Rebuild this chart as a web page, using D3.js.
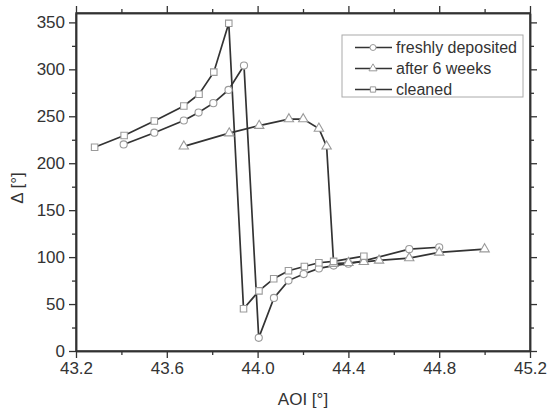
<!DOCTYPE html>
<html><head><meta charset="utf-8">
<script src="https://cdn.jsdelivr.net/npm/d3@7"></script>
<style>body{margin:0;background:#fff}</style>
</head><body><svg id="c" width="547" height="414"></svg>
<script>
const seriesNames = ["freshly deposited", "after 6 weeks", "cleaned"];
const seriesSymbols = ["circle", "triangle", "square"];
const freshX = [43.41,43.545,43.675,43.74,43.805,43.872,43.94,44.005,44.072,44.136,44.203,44.27,44.335,44.40,44.468,44.668,44.80];
const freshY = [220,232.5,245.5,254,264,278,304,14,56.5,75,82,88,91,93,96,108.5,110.5];
const weeksX = [43.675,43.875,44.007,44.138,44.201,44.27,44.304,44.335,44.40,44.468,44.535,44.668,44.80,45.0];
const weeksY = [218,232,240,247,247,237,218,93,94,95,96.5,99,105,108.5];
const cleanX = [43.282,43.412,43.545,43.675,43.742,43.807,43.873,43.938,44.006,44.071,44.136,44.206,44.27,44.335,44.468];
const cleanY = [217,229.5,245,261,273.5,297,349,45,64,77,85.5,90,94,95.5,101];
const xTicks = [43.2,43.6,44.0,44.4,44.8,45.2];
const xMinor = [43.4,43.8,44.2,44.6,45.0];
const yTicks = [0,50,100,150,200,250,300,350];
const yMinor = [25,75,125,175,225,275,325];

const svg = d3.select("#c");
const L=76, R=530, T=13, B=351;
const x = d3.scaleLinear().domain([43.2,45.2]).range([L,R]);
const y = d3.scaleLinear().domain([0,360]).range([B,T]);
const ink = "#333";
const font = "Liberation Sans, Arial, sans-serif";
const symType = {circle:d3.symbolCircle, triangle:d3.symbolTriangle, square:d3.symbolSquare};

function axisStyle(g){
  g.selectAll("path").attr("stroke",ink).attr("stroke-width",1.5);
  g.selectAll("line").attr("stroke",ink).attr("stroke-width",1.3);
  g.selectAll("text").attr("fill",ink).style("font-family",font).style("font-size","17px");
}
svg.append("g").attr("transform",`translate(0,${B})`)
  .call(d3.axisBottom(x).tickValues(xMinor).tickSize(4).tickFormat("").tickSizeOuter(0)).call(axisStyle);
svg.append("g").attr("transform",`translate(0,${B})`)
  .call(d3.axisBottom(x).tickValues(xTicks).tickSize(7).tickPadding(4).tickFormat(d3.format(".1f")).tickSizeOuter(0)).call(axisStyle);
svg.append("g").attr("transform",`translate(0,${T})`)
  .call(d3.axisTop(x).tickValues(xMinor).tickSize(4).tickFormat("").tickSizeOuter(0)).call(axisStyle);
svg.append("g").attr("transform",`translate(0,${T})`)
  .call(d3.axisTop(x).tickValues(xTicks).tickSize(7).tickFormat("").tickSizeOuter(0)).call(axisStyle);
svg.append("g").attr("transform",`translate(${L},0)`)
  .call(d3.axisLeft(y).tickValues(yMinor).tickSize(4).tickFormat("").tickSizeOuter(0)).call(axisStyle);
svg.append("g").attr("transform",`translate(${L},0)`)
  .call(d3.axisLeft(y).tickValues(yTicks).tickSize(7).tickPadding(4).tickFormat(d3.format("d")).tickSizeOuter(0)).call(axisStyle);
svg.append("g").attr("transform",`translate(${R},0)`)
  .call(d3.axisRight(y).tickValues(yMinor).tickSize(4).tickFormat("").tickSizeOuter(0)).call(axisStyle);
svg.append("g").attr("transform",`translate(${R},0)`)
  .call(d3.axisRight(y).tickValues(yTicks).tickSize(7).tickFormat("").tickSizeOuter(0)).call(axisStyle);

svg.append("rect").attr("x",L).attr("y",T).attr("width",R-L).attr("height",B-T)
  .attr("fill","none").attr("stroke",ink).attr("stroke-width",1.5);

svg.append("text").attr("x",(L+R)/2).attr("y",405).attr("text-anchor","middle")
  .attr("fill",ink).style("font-family",font).style("font-size","17px").text("AOI [°]");
svg.append("text").attr("transform",`translate(23,${188}) rotate(-90)`).attr("text-anchor","middle")
  .attr("fill",ink).style("font-family",font).style("font-size","17px").text("Δ [°]");

const data = [
  freshX.map((v,i)=>[v,freshY[i]]),
  weeksX.map((v,i)=>[v,weeksY[i]]),
  cleanX.map((v,i)=>[v,cleanY[i]])
];
const line = d3.line().x(d=>x(d[0])).y(d=>y(d[1]));
const mk = "#9a9a9a";

data.forEach((pts,i)=>{
  svg.append("path").datum(pts).attr("d",line).attr("fill","none").attr("stroke",ink).attr("stroke-width",1.7);
});
const sizes = {circle:40, triangle:38, square:42};
data.forEach((pts,i)=>{
  const s = seriesSymbols[i];
  svg.append("g").selectAll("path").data(pts).join("path")
    .attr("transform",d=>`translate(${x(d[0])},${y(d[1])})`)
    .attr("d",d3.symbol(symType[s],sizes[s])()).attr("fill","#fff").attr("stroke",mk).attr("stroke-width",1.1);
});

const lg = svg.append("g");
lg.append("rect").attr("x",342).attr("y",35).attr("width",181).attr("height",62)
  .attr("fill","#fff").attr("stroke","#aaa").attr("stroke-width",1);
seriesNames.forEach((n,i)=>{
  const cy = 47.5 + i*21;
  const s = seriesSymbols[i];
  lg.append("line").attr("x1",355).attr("x2",392).attr("y1",cy).attr("y2",cy).attr("stroke",ink).attr("stroke-width",1.7);
  lg.append("path").attr("transform",`translate(373,${cy})`)
    .attr("d",d3.symbol(symType[s],28)())
    .attr("fill","#fff").attr("stroke",mk).attr("stroke-width",1);
  lg.append("text").attr("x",396).attr("y",cy+5.5).attr("fill",ink)
    .style("font-family",font).style("font-size","16px").text(n);
});
</script></body></html>
